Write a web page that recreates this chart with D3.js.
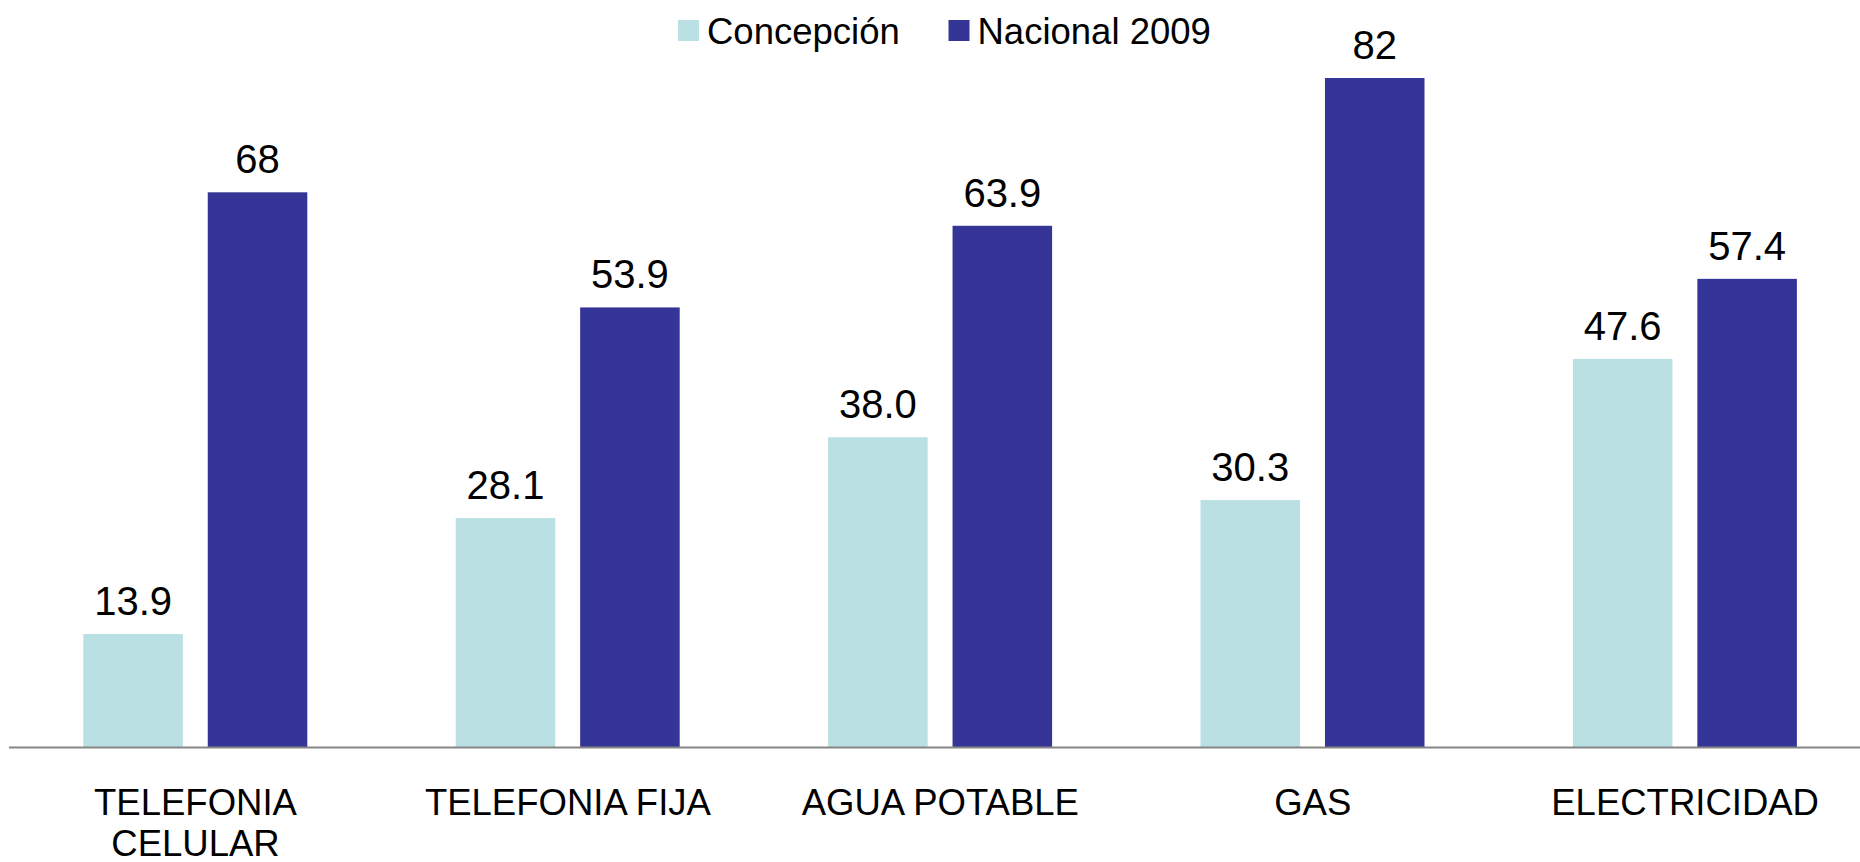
<!DOCTYPE html>
<html>
<head>
<meta charset="utf-8">
<script src="https://cdn.jsdelivr.net/npm/d3@7"></script>
<style>
  body { margin: 0; background: #fff; }
  svg { display: block; }
</style>
</head>
<body>
<div class="chart"></div>
<script>
// --- data ---
const categories = ["TELEFONIA CELULAR", "TELEFONIA FIJA", "AGUA POTABLE", "GAS", "ELECTRICIDAD"];
const categoryLines = [["TELEFONIA", "CELULAR"], ["TELEFONIA FIJA"], ["AGUA POTABLE"], ["GAS"], ["ELECTRICIDAD"]];
const seriesNames = ["Concepción", "Nacional 2009"];
const concepcion = [13.9, 28.1, 38.0, 30.3, 47.6];
const nacional = [68, 53.9, 63.9, 82, 57.4];
const labelsConcepcion = ["13.9", "28.1", "38.0", "30.3", "47.6"];
const labelsNacional = ["68", "53.9", "63.9", "82", "57.4"];
const colors = ["#bbe0e3", "#353497"];

const W = 1860, H = 862;
const baseY = 747.5;
const font = "'Liberation Sans', Arial, sans-serif";

const svg = d3.select(".chart").append("svg")
  .attr("width", W)
  .attr("height", H);

// --- scales ---
const x0 = d3.scaleBand()
  .domain(categories)
  .range([9.3, 9.3 + 372.4 * categories.length])
  .padding(0);

const x1 = d3.scaleBand()
  .domain(seriesNames)
  .range([74, 298])
  .paddingInner(0.2)
  .paddingOuter(0);

const y = d3.scaleLinear()
  .domain([0, 82])
  .range([baseY, 78]);

const rows = categories.map((c, i) => ({
  cat: c,
  vals: [
    { s: seriesNames[0], v: concepcion[i], label: labelsConcepcion[i] },
    { s: seriesNames[1], v: nacional[i], label: labelsNacional[i] }
  ]
}));

// --- bars ---
const groups = svg.selectAll("g.grp")
  .data(rows)
  .join("g")
  .attr("class", "grp")
  .attr("transform", d => `translate(${x0(d.cat)},0)`);

groups.selectAll("rect")
  .data(d => d.vals)
  .join("rect")
  .attr("x", d => x1(d.s))
  .attr("y", d => y(d.v))
  .attr("width", x1.bandwidth())
  .attr("height", d => baseY - y(d.v))
  .attr("fill", (d, i) => colors[i]);

// value labels above bars
groups.selectAll("text.val")
  .data(d => d.vals)
  .join("text")
  .attr("class", "val")
  .attr("x", d => x1(d.s) + x1.bandwidth() / 2)
  .attr("y", d => y(d.v) - 19)
  .attr("text-anchor", "middle")
  .style("font-family", font)
  .style("font-size", "40px")
  .attr("fill", "#000")
  .text(d => d.label);

// --- baseline ---
svg.append("line")
  .attr("x1", 9)
  .attr("x2", W)
  .attr("y1", baseY)
  .attr("y2", baseY)
  .attr("stroke", "#868686")
  .attr("stroke-width", 2);

// --- category labels ---
const catText = svg.selectAll("text.cat")
  .data(categories)
  .join("text")
  .attr("class", "cat")
  .attr("x", d => x0(d) + x0.bandwidth() / 2)
  .attr("y", 815)
  .attr("text-anchor", "middle")
  .style("font-family", font)
  .style("font-size", "36.5px")
  .attr("fill", "#000");

catText.selectAll("tspan")
  .data((d, i) => categoryLines[i])
  .join("tspan")
  .attr("x", function () { return this.parentNode.getAttribute("x"); })
  .attr("dy", (d, i) => i === 0 ? 0 : 41)
  .text(d => d);

// --- legend ---
const legendX = [678, 948.5];
const legend = svg.selectAll("g.leg")
  .data(seriesNames)
  .join("g")
  .attr("class", "leg")
  .attr("transform", (d, i) => `translate(${legendX[i]},0)`);

legend.append("rect")
  .attr("x", 0)
  .attr("y", 20)
  .attr("width", 21)
  .attr("height", 21)
  .attr("fill", (d, i) => colors[i]);

legend.append("text")
  .attr("x", 29)
  .attr("y", 44)
  .style("font-family", font)
  .style("font-size", "36.5px")
  .attr("fill", "#000")
  .text(d => d);
</script>
</body>
</html>
